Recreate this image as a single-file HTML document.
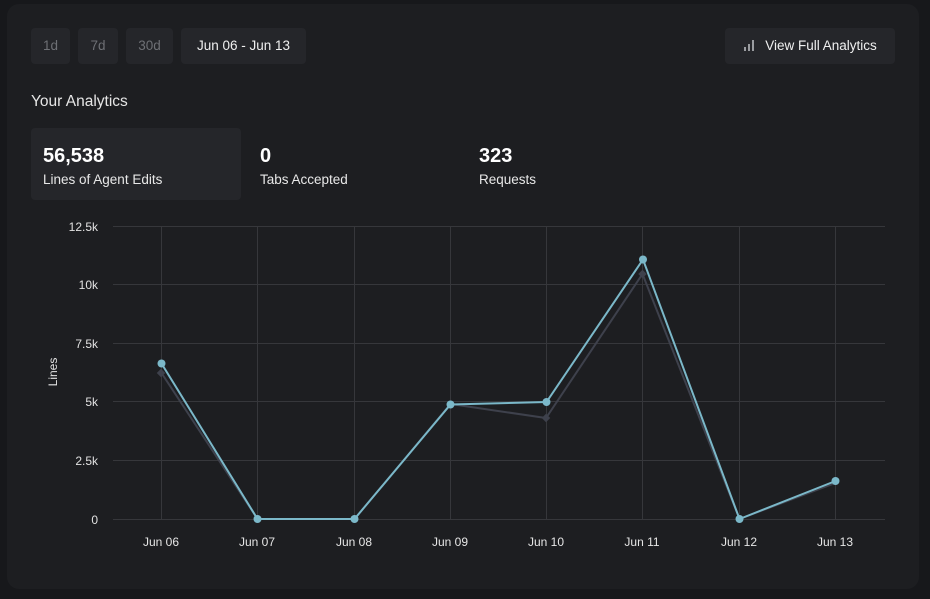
<!DOCTYPE html>
<html><head><meta charset="utf-8"><style>
html,body{margin:0;padding:0;width:930px;height:599px;background:#17181b;overflow:hidden;font-family:"Liberation Sans",sans-serif;}
.card{position:absolute;left:7px;top:4px;width:912px;height:585px;background:#1d1e21;border-radius:12px;}
.btn{position:absolute;top:28px;height:36px;background:#25262a;border-radius:4px;color:#6e7075;font-size:13.5px;line-height:36px;text-align:center;}
.btn.on{color:#f0f0f0;}
.title{position:absolute;left:31px;top:93px;color:#e6e6e6;font-size:15.5px;}
.stat{position:absolute;top:128px;width:210px;height:72px;border-radius:4px;}
.stat .v{position:absolute;left:12px;top:17px;color:#fff;font-size:20px;font-weight:bold;}
.stat .l{position:absolute;left:12px;top:44px;color:#e8e8e8;font-size:13.5px;}
svg{position:absolute;left:0;top:0;}
</style></head><body>
<div class="card"></div>
<div class="btn" style="left:31px;width:39px;">1d</div>
<div class="btn" style="left:78px;width:40px;">7d</div>
<div class="btn" style="left:126px;width:47px;">30d</div>
<div class="btn on" style="left:181px;width:125px;">Jun 06 - Jun 13</div>
<div class="btn on" style="left:725px;width:170px;"><span style="display:inline-block;width:22px;"></span>View Full Analytics</div>
<div class="title">Your Analytics</div>
<div class="stat" style="left:31px;background:#25262a;"><div class="v">56,538</div><div class="l">Lines of Agent Edits</div></div>
<div class="stat" style="left:248px;"><div class="v">0</div><div class="l">Tabs Accepted</div></div>
<div class="stat" style="left:467px;"><div class="v">323</div><div class="l">Requests</div></div>
<svg width="930" height="599" viewBox="0 0 930 599">
  <rect x="744" y="47" width="2" height="4" fill="#9a9ca0"/>
  <rect x="748" y="44" width="2" height="7" fill="#9a9ca0"/>
  <rect x="752" y="40" width="2" height="11" fill="#9a9ca0"/>
  <g stroke="#36373b" stroke-width="1">
    <line x1="113" y1="226.5" x2="885" y2="226.5"/>
    <line x1="113" y1="284.5" x2="885" y2="284.5"/>
    <line x1="113" y1="343.5" x2="885" y2="343.5"/>
    <line x1="113" y1="401.5" x2="885" y2="401.5"/>
    <line x1="113" y1="460.5" x2="885" y2="460.5"/>
    <line x1="113" y1="519.5" x2="885" y2="519.5"/>
    <line x1="161.5" y1="226" x2="161.5" y2="519"/>
    <line x1="257.5" y1="226" x2="257.5" y2="519"/>
    <line x1="354.5" y1="226" x2="354.5" y2="519"/>
    <line x1="450.5" y1="226" x2="450.5" y2="519"/>
    <line x1="546.5" y1="226" x2="546.5" y2="519"/>
    <line x1="642.5" y1="226" x2="642.5" y2="519"/>
    <line x1="739.5" y1="226" x2="739.5" y2="519"/>
    <line x1="835.5" y1="226" x2="835.5" y2="519"/>
  </g>
  <g font-family="Liberation Sans, sans-serif" font-size="12" fill="#e2e2e2" text-anchor="end">
    <text x="98" y="231">12.5k</text>
    <text x="98" y="289">10k</text>
    <text x="98" y="348">7.5k</text>
    <text x="98" y="406">5k</text>
    <text x="98" y="465">2.5k</text>
    <text x="98" y="524">0</text>
  </g>
  <text x="0" y="0" transform="translate(57,372) rotate(-90)" font-family="Liberation Sans, sans-serif" font-size="12" fill="#e2e2e2" text-anchor="middle">Lines</text>
  <g font-family="Liberation Sans, sans-serif" font-size="12" fill="#e6e6e6" text-anchor="middle">
    <text x="161" y="546">Jun 06</text>
    <text x="257" y="546">Jun 07</text>
    <text x="354" y="546">Jun 08</text>
    <text x="450" y="546">Jun 09</text>
    <text x="546" y="546">Jun 10</text>
    <text x="642" y="546">Jun 11</text>
    <text x="739" y="546">Jun 12</text>
    <text x="835" y="546">Jun 13</text>
  </g>
  <polyline fill="none" stroke="#3e414c" stroke-width="2" points="161.5,373 257.5,519 354.5,519 450.5,404 546,418 642.5,274 739.5,519 835.5,483"/>
  <g fill="#3e414c">
    <rect x="158" y="370" width="6" height="6" transform="rotate(45 161 373)"/>
    <rect x="543" y="415" width="6" height="6" transform="rotate(45 546 418)"/>
    <rect x="639.5" y="271" width="6" height="6" transform="rotate(45 642.5 274)"/>
  </g>
  <polyline fill="none" stroke="#7bb8c9" stroke-width="2" points="161.5,363.5 257.5,519 354.5,519 450.5,404.5 546.5,402 643,259.5 739.5,519 835.5,481"/>
  <g fill="#7bb8c9">
    <circle cx="161.5" cy="363.5" r="4"/>
    <circle cx="257.5" cy="519" r="4"/>
    <circle cx="354.5" cy="519" r="4"/>
    <circle cx="450.5" cy="404.5" r="4"/>
    <circle cx="546.5" cy="402" r="4"/>
    <circle cx="643" cy="259.5" r="4"/>
    <circle cx="739.5" cy="519" r="4"/>
    <circle cx="835.5" cy="481" r="4"/>
  </g>
</svg>
</body></html>
